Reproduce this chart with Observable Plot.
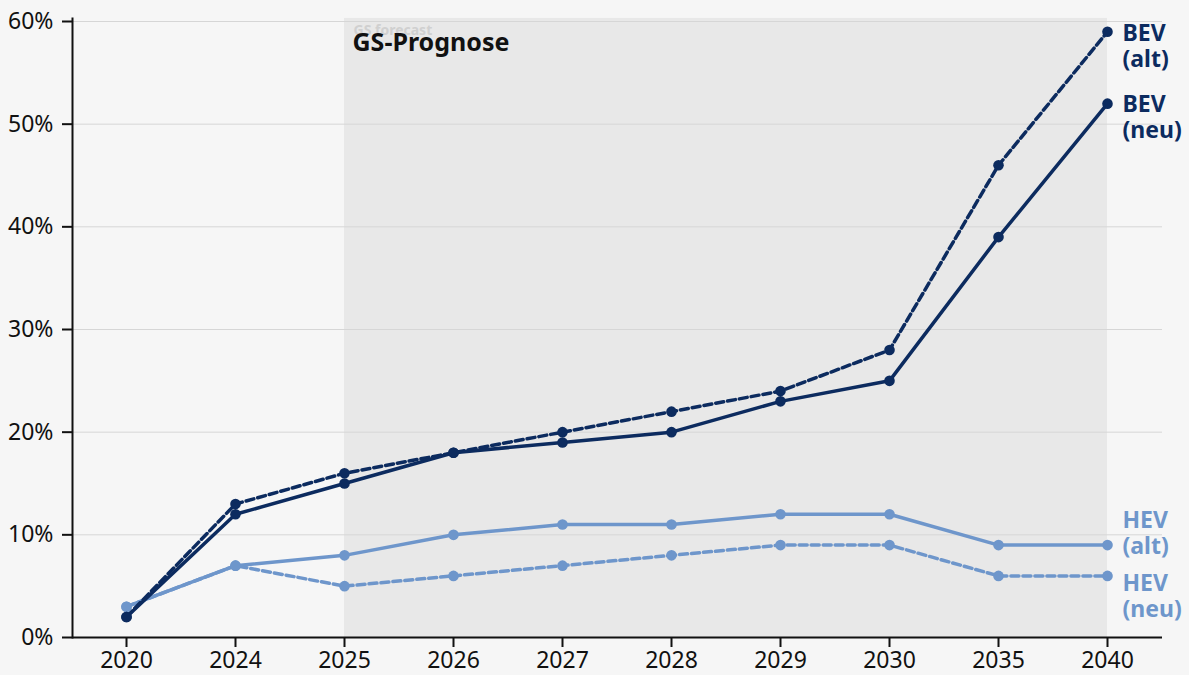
<!DOCTYPE html>
<html><head><meta charset="utf-8">
<script src="https://cdn.jsdelivr.net/npm/d3@7"></script>
<script src="https://cdn.jsdelivr.net/npm/@observablehq/plot@0.6"></script>
<style>
html,body{margin:0;padding:0;background:#f6f6f6;}
#chart svg{background:transparent;font-family:"Noto Sans",sans-serif;}
</style></head>
<body><div id="chart"></div>
<script>
const years = ["2020","2024","2025","2026","2027","2028","2029","2030","2035","2040"];
const bevAlt = [2,13,16,18,20,22,24,28,46,59];
const bevNeu = [2,12,15,18,19,20,23,25,39,52];
const hevSolid = [3,7,8,10,11,11,12,12,9,9];
const hevDashed = [3,7,5,6,7,8,9,9,6,6];
const yTicks = [0,10,20,30,40,50,60];
const forecastStart = "2025", forecastEnd = "2040";

const dark = "#0c2b5f", light = "#6e96cb";
const series = [
  {name:"BEV\n(alt)", vals:bevAlt, color:dark, dash:"8,4", dy:14},
  {name:"BEV\n(neu)", vals:bevNeu, color:dark, dash:null, dy:13},
  {name:"HEV\n(alt)", vals:hevSolid, color:light, dash:null, dy:-12},
  {name:"HEV\n(neu)", vals:hevDashed, color:light, dash:"8,4", dy:20}
];
const rows = s => years.map((y,i)=>({year:y, v:s.vals[i]/100}));
const drawOrder = [series[3], series[2], series[0], series[1]];

const marks = [
  Plot.rect([{}], {x1:()=>forecastStart, x2:()=>forecastEnd, y1:0, y2:0.603, fill:"#e8e8e8"}),
  Plot.gridY(yTicks.map(d=>d/100), {stroke:"#d6d6d6", strokeOpacity:1, strokeWidth:1}),
  Plot.text([forecastStart], {x:d=>d, y:0.6, text:()=>"GS forecast", textAnchor:"start", dx:9, dy:9, fontSize:14, fontWeight:"bold", fill:"#d0d0d0"}),
  Plot.text([forecastStart], {x:d=>d, y:0.6, text:()=>"GS-Prognose", textAnchor:"start", dx:8, dy:21, fontSize:25, fontWeight:"bold", fill:"#111"}),
];
for (const s of drawOrder) {
  marks.push(Plot.line(rows(s), {x:"year", y:"v", stroke:s.color, strokeWidth:3.5, strokeDasharray:s.dash || undefined}));
}
for (const s of drawOrder) {
  marks.push(Plot.dot(rows(s), {x:"year", y:"v", r:5.3, fill:s.color, stroke:"none"}));
}
for (const s of series) {
  const last = rows(s).slice(-1);
  marks.push(Plot.text(last, {x:"year", y:"v", text:()=>s.name, textAnchor:"start", lineAnchor:"middle", dx:15, dy:s.dy, fontSize:23, fontWeight:"bold", fill:s.color, lineHeight:1.13}));
}
marks.push(Plot.frame({anchor:"left", stroke:"#111", strokeWidth:2}));
marks.push(Plot.ruleY([0], {stroke:"#111", strokeWidth:2}));
marks.push(Plot.axisY(yTicks.map(d=>d/100), {tickSize:10, tickPadding:9, tickFormat:d=>Math.round(d*100)+"%", fontSize:23, stroke:"#111", strokeWidth:2, fill:"#111"}));
marks.push(Plot.axisX({tickSize:10, tickPadding:4, fontSize:23, stroke:"#111", strokeWidth:2, fill:"#111"}));

const chart = Plot.plot({
  width:1189, height:675,
  marginLeft:72, marginRight:27, marginTop:18, marginBottom:38,
  x:{type:"point", domain:years, range:[126,1107], padding:0, label:null},
  y:{domain:[0,0.6], range:[637,21], label:null},
  style:{background:"transparent", fontFamily:"Noto Sans, sans-serif", overflow:"visible"},
  marks
});
document.getElementById("chart").appendChild(chart);
</script>
</body></html>
